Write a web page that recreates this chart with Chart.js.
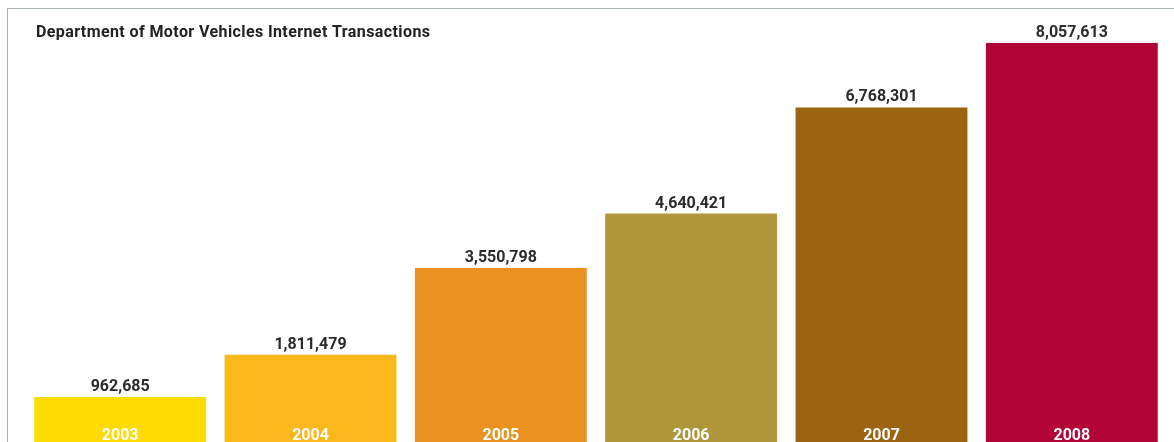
<!DOCTYPE html>
<html>
<head>
<meta charset="utf-8">
<script src="https://cdn.jsdelivr.net/npm/chart.js@4"></script>
<style>
  html, body { margin: 0; padding: 0; background: #fff; overflow: hidden; }
  #wrap { position: relative; width: 1174px; height: 442px; overflow: hidden; }
  #frame { position: absolute; left: 7px; top: 8px; width: 1200px; height: 500px;
           border-top: 1px solid #a9b5b5; border-left: 1px solid #a9b5b5; }
  #chart { position: absolute; left: 0; top: 0; }
</style>
</head>
<body>
<div id="wrap">
  <div id="frame"></div>
  <canvas id="chart" width="1174" height="446"></canvas>
</div>
<script>
const title = 'Department of Motor Vehicles Internet Transactions';
const years = ['2003', '2004', '2005', '2006', '2007', '2008'];
const transactions = [962685, 1811479, 3550798, 4640421, 6768301, 8057613];
const barColors = ['#fedc00', '#fbb81a', '#ea911f', '#b0963b', '#9c6311', '#b20436'];

const labelPlugin = {
  id: 'labels',
  afterDatasetsDraw(chart) {
    const ctx = chart.ctx;
    const meta = chart.getDatasetMeta(0);
    ctx.save();
    ctx.textAlign = 'center';
    ctx.textBaseline = 'alphabetic';
    meta.data.forEach((bar, i) => {
      ctx.font = 'bold 16px Roboto';
      ctx.fillStyle = '#2b2b2b';
      ctx.fillText(transactions[i].toLocaleString('en-US'), bar.x, bar.y - 6);
      ctx.fillStyle = '#ffffff';
      ctx.fillText(years[i], bar.x, 440);
    });
    // title
    ctx.font = 'bold 16px Roboto';
    ctx.letterSpacing = '0.4px';
    ctx.fillStyle = '#222222';
    ctx.textAlign = 'left';
    ctx.fillText(title, 36, 37);
    ctx.restore();
  }
};

new Chart(document.getElementById('chart'), {
  type: 'bar',
  data: {
    labels: years,
    datasets: [{
      data: transactions,
      backgroundColor: barColors,
      borderWidth: 0,
      barPercentage: 0.903,
      categoryPercentage: 1
    }]
  },
  options: {
    responsive: false,
    animation: false,
    layout: { padding: { left: 25, right: 7, top: 19, bottom: 1 } },
    plugins: {
      legend: { display: false },
      title: { display: false },
      tooltip: { enabled: false }
    },
    scales: {
      x: { display: false },
      y: { display: false, min: 0, max: 8540000 }
    }
  },
  plugins: [labelPlugin]
});
</script>
</body>
</html>
